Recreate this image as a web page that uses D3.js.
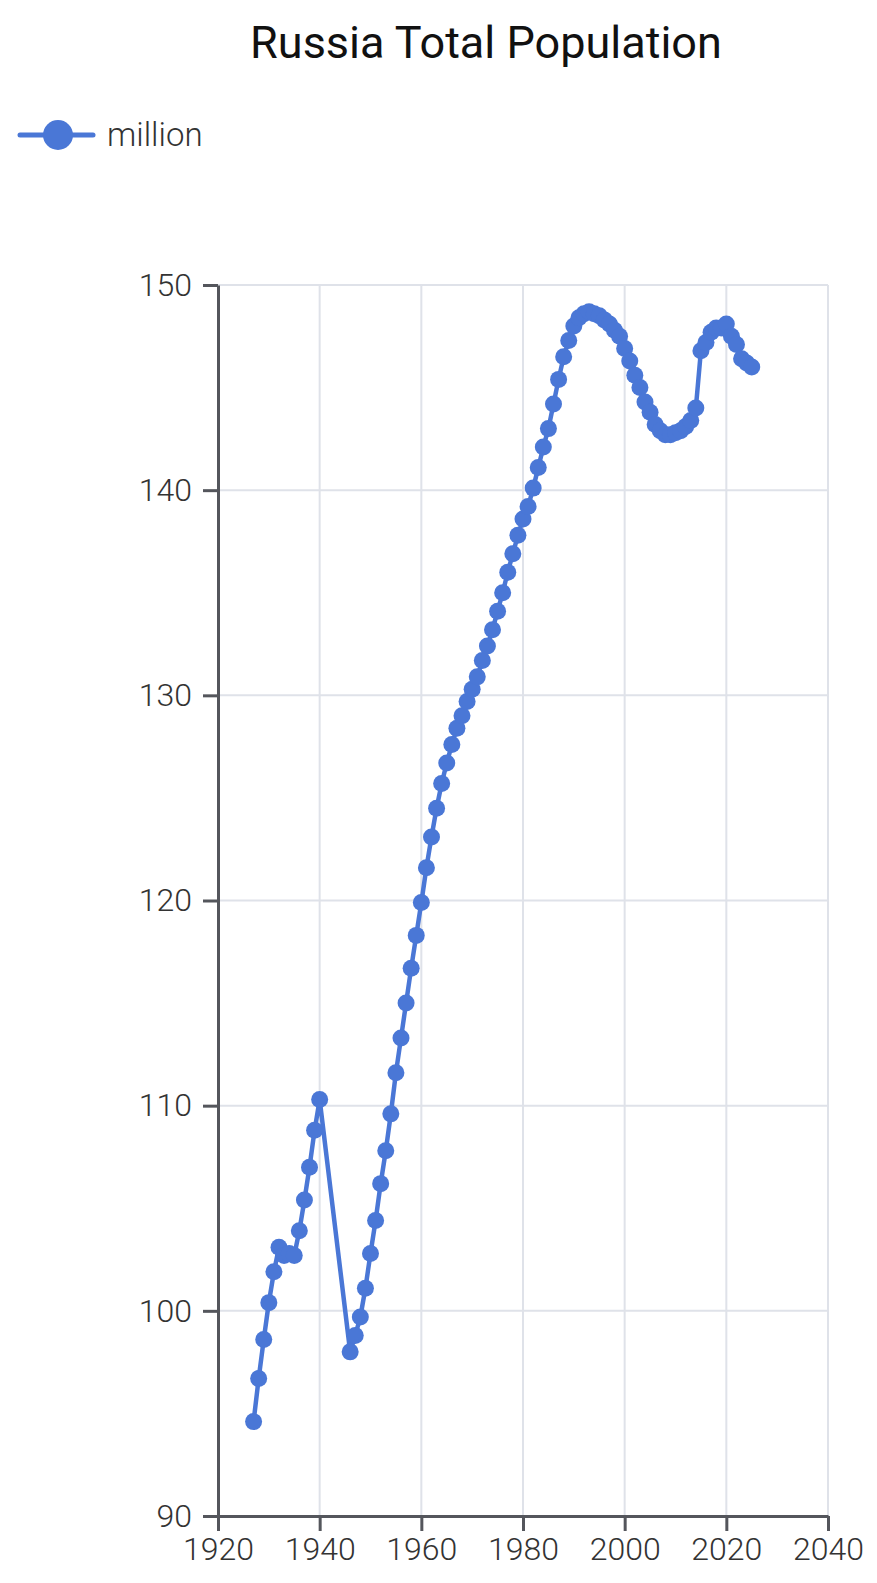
<!DOCTYPE html>
<html>
<head>
<meta charset="utf-8">
<script src="https://cdn.jsdelivr.net/npm/d3@7"></script>
<style>
  html, body { margin: 0; padding: 0; background: #fff; }
  svg { display: block; font-family: Roboto, "Noto Sans", sans-serif; }
</style>
</head>
<body>
<div id="container"></div>
<script>
// Russia total population, millions
var years = [
  1927, 1928, 1929, 1930, 1931, 1932, 1933, 1934, 1935, 1936, 1937, 1938, 1939, 1940,
  1946, 1947, 1948, 1949, 1950, 1951, 1952, 1953, 1954, 1955, 1956, 1957, 1958, 1959,
  1960, 1961, 1962, 1963, 1964, 1965, 1966, 1967, 1968, 1969, 1970, 1971, 1972, 1973,
  1974, 1975, 1976, 1977, 1978, 1979, 1980, 1981, 1982, 1983, 1984, 1985, 1986, 1987,
  1988, 1989, 1990, 1991, 1992, 1993, 1994, 1995, 1996, 1997, 1998, 1999, 2000, 2001,
  2002, 2003, 2004, 2005, 2006, 2007, 2008, 2009, 2010, 2011, 2012, 2013, 2014, 2015,
  2016, 2017, 2018, 2019, 2020, 2021, 2022, 2023, 2024, 2025
];
var population = [
  94.6, 96.7, 98.6, 100.4, 101.9, 103.1, 102.7, 102.8, 102.7, 103.9, 105.4, 107.0, 108.8, 110.3,
  98.0, 98.8, 99.7, 101.1, 102.8, 104.4, 106.2, 107.8, 109.6, 111.6, 113.3, 115.0, 116.7, 118.3,
  119.9, 121.6, 123.1, 124.5, 125.7, 126.7, 127.6, 128.4, 129.0, 129.7, 130.3, 130.9, 131.7, 132.4,
  133.2, 134.1, 135.0, 136.0, 136.9, 137.8, 138.6, 139.2, 140.1, 141.1, 142.1, 143.0, 144.2, 145.4,
  146.5, 147.3, 148.0, 148.4, 148.6, 148.7, 148.6, 148.5, 148.3, 148.1, 147.8, 147.5, 146.9, 146.3,
  145.6, 145.0, 144.3, 143.8, 143.2, 142.9, 142.7, 142.7, 142.8, 142.9, 143.1, 143.4, 144.0, 146.8,
  147.2, 147.7, 147.9, 147.9, 148.1, 147.5, 147.1, 146.4, 146.2, 146.0
];
var xTicks = [1920, 1940, 1960, 1980, 2000, 2020, 2040];
var yTicks = [90, 100, 110, 120, 130, 140, 150];
var seriesName = "million";
var chartTitle = "Russia Total Population";

var width = 877, height = 1583;
var margin = { top: 285, right: 49, bottom: 67, left: 218 };
var color = "#4a77d6";

var svg = d3.select("#container")
  .append("svg")
  .attr("width", width)
  .attr("height", height);

var x = d3.scaleLinear().domain([1920, 2040]).range([margin.left, width - margin.right]);
var y = d3.scaleLinear().domain([90, 150]).range([height - margin.bottom, margin.top]);

// grid
svg.append("g")
  .selectAll("line.hgrid")
  .data(yTicks.slice(1))
  .join("line")
  .attr("x1", margin.left).attr("x2", width - margin.right)
  .attr("y1", function (d) { return y(d); }).attr("y2", function (d) { return y(d); })
  .attr("stroke", "#dfe2e9").attr("stroke-width", 2);

svg.append("g")
  .selectAll("line.vgrid")
  .data(xTicks.slice(1))
  .join("line")
  .attr("x1", function (d) { return x(d); }).attr("x2", function (d) { return x(d); })
  .attr("y1", margin.top).attr("y2", height - margin.bottom)
  .attr("stroke", "#dfe2e9").attr("stroke-width", 2);

// axes
var xAxis = svg.append("g")
  .attr("transform", "translate(0," + (height - margin.bottom) + ")")
  .call(d3.axisBottom(x).tickValues(xTicks).tickFormat(d3.format("d")).tickSizeInner(15).tickSizeOuter(0).tickPadding(6));

var yAxis = svg.append("g")
  .attr("transform", "translate(" + margin.left + ",0)")
  .call(d3.axisLeft(y).tickValues(yTicks).tickSizeInner(15).tickSizeOuter(0).tickPadding(11));

[xAxis, yAxis].forEach(function (g) {
  g.select(".domain").attr("stroke", "#54565c").attr("stroke-width", 3);
  g.selectAll(".tick line").attr("stroke", "#54565c").attr("stroke-width", 3);
  g.selectAll(".tick text")
    .attr("fill", "#333")
    .style("font-size", "32px")
    .style("font-weight", 300)
    .style("font-family", "Roboto, sans-serif");
});

// series
var points = years.map(function (yr, i) { return [yr, population[i]]; });

svg.append("path")
  .datum(points)
  .attr("fill", "none")
  .attr("stroke", color)
  .attr("stroke-width", 4.5)
  .attr("stroke-linejoin", "round")
  .attr("d", d3.line()
    .x(function (d) { return x(d[0]); })
    .y(function (d) { return y(d[1]); }));

svg.append("g")
  .selectAll("circle")
  .data(points)
  .join("circle")
  .attr("cx", function (d) { return x(d[0]); })
  .attr("cy", function (d) { return y(d[1]); })
  .attr("r", 8.5)
  .attr("fill", color);

// title
svg.append("text")
  .attr("x", 486)
  .attr("y", 58)
  .attr("text-anchor", "middle")
  .attr("fill", "#111")
  .style("font-size", "45px")
  .style("font-weight", 400)
  .text(chartTitle);

// legend
var legend = svg.append("g");
legend.append("line")
  .attr("x1", 20).attr("x2", 93)
  .attr("y1", 135).attr("y2", 135)
  .attr("stroke", color).attr("stroke-width", 5).attr("stroke-linecap", "round");
legend.append("circle")
  .attr("cx", 58).attr("cy", 135).attr("r", 15)
  .attr("fill", color);
legend.append("text")
  .attr("x", 107).attr("y", 146)
  .attr("fill", "#333")
  .style("font-size", "33px")
  .style("font-weight", 300)
  .text(seriesName);
</script>
</body>
</html>
